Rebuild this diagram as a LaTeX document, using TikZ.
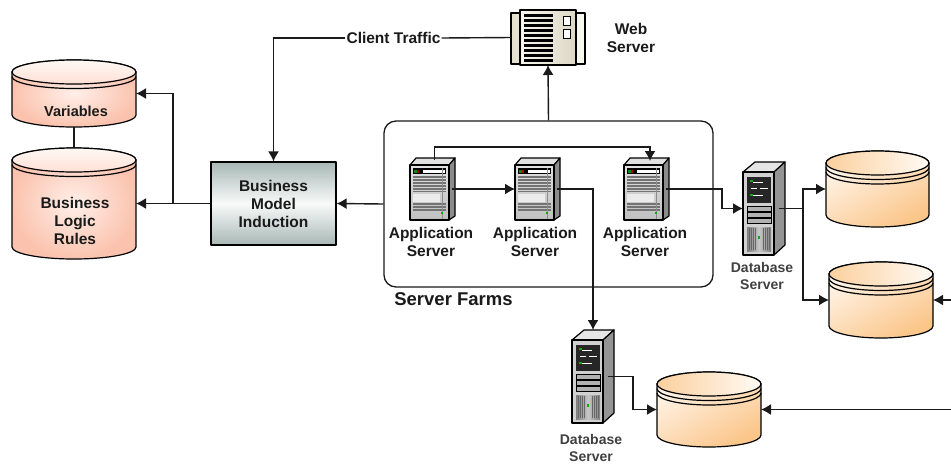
\documentclass[tikz,border=0pt]{standalone}
\usepackage{fontspec}
\setmainfont{Liberation Sans}
\usetikzlibrary{arrows.meta}
\definecolor{ink}{HTML}{1A1A1A}
\definecolor{salin}{HTML}{FFEFE9}
\definecolor{salout}{HTML}{FBC3AE}
\definecolor{saltopa}{HTML}{FFF8F5}
\definecolor{saltopb}{HTML}{FFE0D5}
\definecolor{orhi}{HTML}{FFF6EC}
\definecolor{orlo}{HTML}{FBC68A}
\definecolor{ortopa}{HTML}{FBD09E}
\definecolor{ortopb}{HTML}{FFFAF4}
\definecolor{boxedge}{HTML}{A8B8B5}
\definecolor{boxmid}{HTML}{F8FAF9}
\definecolor{creama}{HTML}{E4E0CF}
\definecolor{creamb}{HTML}{FBFAF2}
\definecolor{creamc}{HTML}{F8F6EC}
\definecolor{creamd}{HTML}{DCD8C6}
\tikzset{
  conn/.style={draw=ink,line width=1.4pt,line join=miter},
  arr/.style={conn,-{Latex[length=10pt,width=11pt]}},
  anchorbox/.style={inner sep=0pt,outer sep=0pt,minimum width=#1},
  lab/.style={text=ink,align=center,inner sep=0pt,font=\fontsize{15.5}{18}\selectfont\bfseries},
  dblab/.style={text=black!75,align=center,inner sep=0pt,font=\fontsize{14}{17}\selectfont\bfseries},
  edge/.style={draw=black,line width=1.2pt,line join=round},
  salmonbody/.style={inner color=salin,outer color=salout},
  salmontop/.style={top color=saltopa,bottom color=saltopb},
  orangebody/.style={shading=axis,top color=orhi,bottom color=orlo,shading angle=30},
  orangetop/.style={left color=ortopa,right color=ortopb},
}
% name x0 x1 ytop ybot ry rim-count bodystyle topstyle
\newcommand{\mycyl}[9]{%
  \pgfmathsetmacro{\cxx}{(#2+#3)/2}%
  \pgfmathsetmacro{\rxx}{(#3-#2)/2}%
  \pgfmathsetmacro{\ta}{#4+#6}%
  \pgfmathsetmacro{\ba}{#5-#6}%
  \pgfmathsetmacro{\kx}{0.552*\rxx}%
  \pgfmathsetmacro{\ky}{0.552*#6}%
  \path[edge,#8] (#2,\ta) -- (#2,\ba) .. controls (#2,\ba+\ky) and (\cxx-\kx,#5) .. (\cxx,#5)
     .. controls (\cxx+\kx,#5) and (#3,\ba+\ky) .. (#3,\ba) -- (#3,\ta)
     .. controls (#3,\ta-\ky) and (\cxx+\kx,#4) .. (\cxx,#4)
     .. controls (\cxx-\kx,#4) and (#2,\ta-\ky) .. (#2,\ta) -- cycle;
  \path[edge,#9] (\cxx,\ta) ellipse [x radius=\rxx,y radius=#6];
  \foreach \k in {1,...,#7}{%
    \pgfmathsetmacro{\ra}{\ta+\k*4.5}%
    \draw[edge] (#2,\ra) .. controls (#2,\ra+\ky) and (\cxx-\kx,\ra+#6) .. (\cxx,\ra+#6)
       .. controls (\cxx+\kx,\ra+#6) and (#3,\ra+\ky) .. (#3,\ra);
  }%
  \node[anchorbox=#3pt-#2pt,minimum height=#5pt-#4pt] (#1) at (\cxx,{(#4+#5)/2}) {};%
}
% name x0
\newcommand{\appserver}[2]{%
  \begin{scope}[shift={(#2,158)}]
    \path[edge,fill=black!12] (0,7) -- (6,0) -- (45,0) -- (39,7) -- cycle;
    \path[edge,fill=black!45] (39,7) -- (45,0) -- (45,58) -- (39,62) -- cycle;
    \path[edge,top color=black!12,bottom color=black!25] (0,7) rectangle (39,62);
    \fill[black] (3,10) rectangle (36,16);
    \fill[green!55!black] (4,11.5) rectangle (9,14.5);
    \fill[red!70!black] (7,11.5) rectangle (9,14.5);
    \fill[white] (13,11.5) rectangle (35,14.5);
    \foreach \yy in {19,22,25,28,31,33.5,46,49,52}{\draw[black!55,line width=1.2pt] (3,\yy) -- (36,\yy);}
    \fill[black!8] (3,36) rectangle (30,44);
    \draw[black!45,line width=1pt] (32,10) -- (32,61);
    \fill[green!70!black] (31,54) rectangle (33,56);
  \end{scope}%
  \node[anchorbox=45pt,minimum height=62pt] (#1) at (#2+22.5,189) {};%
}
% name x0 y0
\newcommand{\dbserver}[3]{%
  \begin{scope}[shift={(#2,#3)}]
    \path[edge,fill=black!10] (0,10) -- (12,0) -- (42,0) -- (31,10) -- cycle;
    \path[edge,fill=black!42] (31,10) -- (42,0) -- (42,83) -- (31,93) -- cycle;
    \path[edge,fill=black!18] (0,10) rectangle (31,93);
    \fill[black!85] (4,15) rectangle (28,41);
    \fill[green!70!black] (7,18) rectangle (10,20);
    \draw[white,line width=.8pt] (10,20) -- (20,20) (8,26) -- (14,26) (17,26) -- (25,26) (10,33) -- (20,33);
    \fill[green!70!black] (7,32) rectangle (10,34);
    \foreach \yy in {44,50,56}{\path[draw=black,line width=.9pt,fill=black!30] (4,\yy) rectangle (28,\yy+5);}
    \shade[left color=black!50,right color=black!50,middle color=black!22] (4,65) rectangle (28,89);
    \foreach \xx in {6,8,10,12,20,22,24,26}{\draw[black!60,line width=.7pt] (\xx,66) -- (\xx,88);}
    \fill[green!70!black] (15,74) rectangle (17,77);
  \end{scope}%
  \node[anchorbox=42pt,minimum height=93pt] (#1) at (#2+21,#3+46.5) {};%
}
\begin{document}
\begin{tikzpicture}[x=1pt,y=-1pt]
\useasboundingbox (0,0) rectangle (951,464);
\fill[white] (0,0) rectangle (951,464);
% cylinders
\mycyl{var}{12}{136}{60}{127}{12}{1}{salmonbody}{salmontop}
\mycyl{blr}{12}{136}{148}{259}{12}{1}{salmonbody}{salmontop}
\mycyl{cyla}{826}{929}{151}{227}{12}{2}{orangebody}{orangetop}
\mycyl{cylb}{829}{933}{262}{338}{12}{2}{orangebody}{orangetop}
\mycyl{cylc}{657}{761}{372}{447}{12}{2}{orangebody}{orangetop}
\node[lab,font=\fontsize{14.5}{18}\selectfont\bfseries] (vart) at (76,111) {Variables};
\node[lab] (blrt) at (75,221) {Business\\Logic\\Rules};
% induction box
\node[edge,top color=boxedge,bottom color=boxedge,middle color=boxmid,minimum width=125pt,minimum height=83pt,inner sep=0pt,lab] (bmi) at (273.5,203.5) {Business\\Model\\Induction};
% web server
\node[anchorbox=74pt,minimum height=55pt] (ws) at (548,37.5) {};
\path[edge,left color=creama,right color=creamb] (511,13) rectangle (585,64);
\path[edge,left color=creamc,right color=creamd] (520,10) rectangle (576,65);
\foreach \yy in {15.5,20.5,25.5,30.5,35.5,40.5,45.5,50.5,55.5,60.5}{\fill[black] (524,\yy-1.8) rectangle (553,\yy+1.8);}
\draw[black,line width=1pt,fill=white] (563,16) rectangle (570,25) (563,29) rectangle (570,38);
\node[lab] (wst) at (631,37.5) {Web\\Server};
% farm
\node[draw=ink,line width=1.3pt,rounded corners=12pt,minimum width=329pt,minimum height=166pt,inner sep=0pt] (farm) at (548.5,204) {};
\node[lab,font=\fontsize{18.5}{22}\selectfont\bfseries] (farmt) at (453.5,299) {Server Farms};
% servers
\appserver{sa}{410}
\appserver{sb}{515}
\appserver{sc}{624}
\node[lab] (sat) at (431,242) {Application\\Server};
\node[lab] (sbt) at (535,242) {Application\\Server};
\node[lab] (sct) at (645,242) {Application\\Server};
\dbserver{dba}{743}{162}
\dbserver{dbb}{572}{330}
\node[dblab] (dbat) at (762,275.5) {Database\\Server};
\node[dblab] (dbbt) at (591,448) {Database\\Server};
% traffic
\node[lab,fill=white,inner sep=1pt] (ct) at (393.5,38) {Client Traffic};
% free ends and junctions
\coordinate (ja) at (173,203.5);
\coordinate (jb) at (803,208.5);
\coordinate (bend) at (722,189);
\coordinate (ea) at (951,300);
\coordinate (eb) at (951,409.5);
% connectors
\draw[conn] (var.south) -- (blr.north);
\draw[arr] (bmi.west) -- (blr.east);
\draw[arr] (ja) |- (var.east);
\draw[arr] (ct.west) -| (bmi.north);
\draw[conn] (ct.east) -- (ws.west);
\draw[arr] (farm.north) -- (ws.south);
\draw[arr] (farm.west) -- (bmi.east);
\draw[arr] ([xshift=2pt,yshift=-2pt]sa.north) -- ++(0,-13) -| ([xshift=3.5pt,yshift=-3pt]sc.north);
\draw[arr] ([xshift=-3pt]sa.east) -- (sb.west);
\draw[arr] ([xshift=-3pt]sb.east) -| (dbb.north);
\draw[arr] ([xshift=-3pt]sc.east) -- (bend) |- (dba.west);
\draw[conn] ([xshift=-6pt]dba.east) -- (jb);
\draw[arr] (jb) |- (cyla.west);
\draw[arr] (jb) |- (cylb.west);
\draw[arr] ([xshift=-6pt]dbb.east) -- ++(25,0) |- (cylc.west);
\draw[arr] (ea) -- (cylb.east);
\draw[arr] (eb) -- (cylc.east);
\end{tikzpicture}
\end{document}
